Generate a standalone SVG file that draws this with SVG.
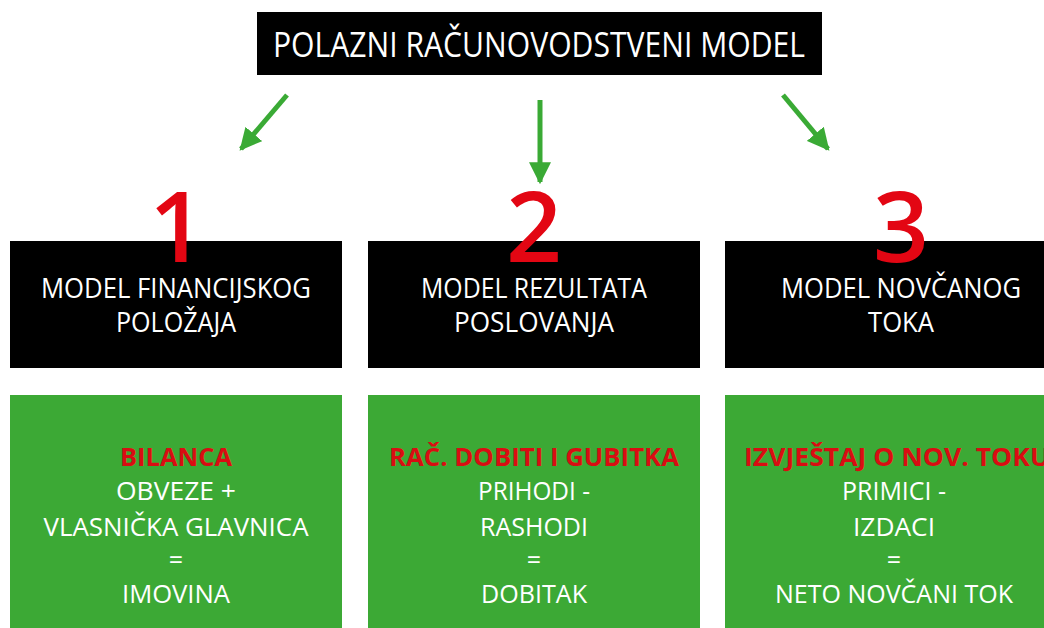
<svg xmlns="http://www.w3.org/2000/svg" width="1044" height="628" viewBox="0 0 1044 628">
<defs>
<style>
.blk{fill:#000}
.grn{fill:#3ca935}
.t{font-family:"Open Sans","Liberation Sans",sans-serif;fill:#fff;text-anchor:middle}
.tt{font-size:34px}
.bt{font-size:27px}
.gt{font-size:25px}
.rt{font-family:"Open Sans","Liberation Sans",sans-serif;font-weight:bold;font-size:25px;fill:#d90d12;text-anchor:middle}
.num{font-family:"Open Sans","Liberation Sans",sans-serif;font-weight:600;font-size:98px;fill:#e30613;text-anchor:middle}
.arr{stroke:#3aaa35;stroke-width:5;fill:none}
</style>
<marker id="ah" viewBox="0 0 10 10" refX="9" refY="5" markerWidth="4.4" markerHeight="4.4" orient="auto" markerUnits="strokeWidth">
<path d="M0,0 L10,5 L0,10 z" fill="#3aaa35"/>
</marker>
</defs>
<rect width="1044" height="628" fill="#fff"/>
<g id="top">
<rect class="blk" x="257" y="12" width="565" height="63"/>
<text class="t tt" x="539" y="57" textLength="532" lengthAdjust="spacingAndGlyphs">POLAZNI RAČUNOVODSTVENI MODEL</text>
</g>
<g id="connectors">
<line class="arr" x1="287" y1="95" x2="241" y2="149" marker-end="url(#ah)"/>
<line class="arr" x1="540" y1="100" x2="540" y2="182" marker-end="url(#ah)"/>
<line class="arr" x1="783" y1="95" x2="828" y2="149" marker-end="url(#ah)"/>
</g>
<g id="model1">
<rect class="blk" x="10" y="241" width="332" height="127"/>
<text class="num" x="177" y="262">1</text>
<text class="t bt" x="176" y="298" textLength="270" lengthAdjust="spacingAndGlyphs">MODEL FINANCIJSKOG</text>
<text class="t bt" x="176" y="332" textLength="120" lengthAdjust="spacingAndGlyphs">POLOŽAJA</text>
</g>
<g id="model2">
<rect class="blk" x="368" y="241" width="332" height="127"/>
<text class="num" x="534" y="262">2</text>
<text class="t bt" x="534" y="298" textLength="226" lengthAdjust="spacingAndGlyphs">MODEL REZULTATA</text>
<text class="t bt" x="534" y="332" textLength="160" lengthAdjust="spacingAndGlyphs">POSLOVANJA</text>
</g>
<g id="model3">
<rect class="blk" x="725" y="241" width="330" height="127"/>
<text class="num" x="901" y="262">3</text>
<text class="t bt" x="901" y="298" textLength="240" lengthAdjust="spacingAndGlyphs">MODEL NOVČANOG</text>
<text class="t bt" x="901" y="332" textLength="66" lengthAdjust="spacingAndGlyphs">TOKA</text>
</g>
<g id="report1">
<rect class="grn" x="10" y="395" width="332" height="240"/>
<text class="rt" x="176" y="466" textLength="112" lengthAdjust="spacingAndGlyphs">BILANCA</text>
<text class="t gt" x="176" y="500" textLength="120" lengthAdjust="spacingAndGlyphs">OBVEZE +</text>
<text class="t gt" x="176" y="536" textLength="265" lengthAdjust="spacingAndGlyphs">VLASNIČKA GLAVNICA</text>
<text class="t gt" x="176" y="569">=</text>
<text class="t gt" x="176" y="603" textLength="108" lengthAdjust="spacingAndGlyphs">IMOVINA</text>
</g>
<g id="report2">
<rect class="grn" x="368" y="395" width="332" height="240"/>
<text class="rt" x="534" y="466" textLength="290" lengthAdjust="spacingAndGlyphs">RAČ. DOBITI I GUBITKA</text>
<text class="t gt" x="534" y="500" textLength="112" lengthAdjust="spacingAndGlyphs">PRIHODI -</text>
<text class="t gt" x="534" y="536" textLength="108" lengthAdjust="spacingAndGlyphs">RASHODI</text>
<text class="t gt" x="534" y="569">=</text>
<text class="t gt" x="534" y="603" textLength="106" lengthAdjust="spacingAndGlyphs">DOBITAK</text>
</g>
<g id="report3">
<rect class="grn" x="725" y="395" width="330" height="240"/>
<text class="rt" x="897" y="466" textLength="306" lengthAdjust="spacingAndGlyphs">IZVJEŠTAJ O NOV. TOKU</text>
<text class="t gt" x="894" y="500" textLength="104" lengthAdjust="spacingAndGlyphs">PRIMICI -</text>
<text class="t gt" x="894" y="536" textLength="82" lengthAdjust="spacingAndGlyphs">IZDACI</text>
<text class="t gt" x="894" y="569">=</text>
<text class="t gt" x="894" y="603" textLength="238" lengthAdjust="spacingAndGlyphs">NETO NOVČANI TOK</text>
</g>
</svg>
